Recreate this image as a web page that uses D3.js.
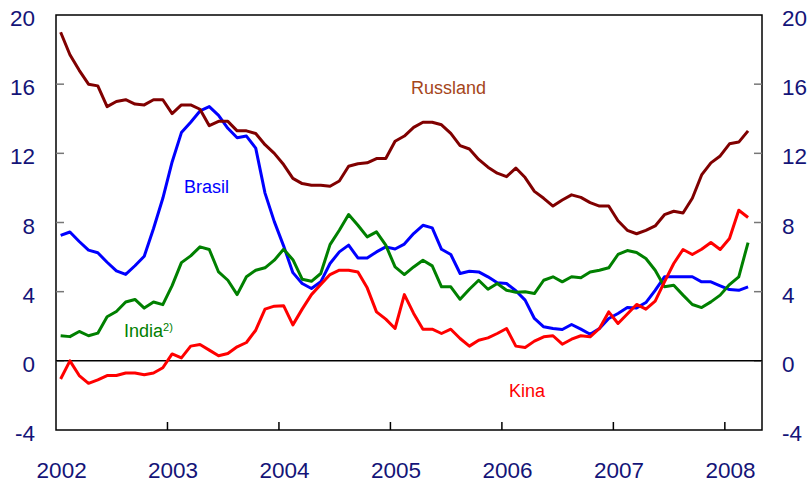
<!DOCTYPE html>
<html>
<head>
<meta charset="utf-8">
<script src="https://cdn.jsdelivr.net/npm/d3@7"></script>
<style>
  body { margin: 0; background: #fff; }
  svg { display: block; font-family: "Liberation Sans", Arial, sans-serif; }
</style>
</head>
<body>
<svg id="chart" width="811" height="484"></svg>
<script>
// monthly values, Jan 2002 - Mar 2008
const startYear = 2002;
const yearTicks = [2002, 2003, 2004, 2005, 2006, 2007, 2008];
const valueTicks = [-4, 0, 4, 8, 12, 16, 20];

const russland = [19.0, 17.7, 16.8, 16.0, 15.9, 14.7, 15.0, 15.1, 14.85, 14.8, 15.1, 15.1,
    14.3, 14.8, 14.8, 14.55, 13.6, 13.85, 13.85, 13.3, 13.3, 13.15, 12.5, 12.0,
    11.35, 10.55, 10.25, 10.15, 10.15, 10.1, 10.4, 11.25, 11.4, 11.45, 11.7, 11.7,
    12.7, 13.0, 13.5, 13.8, 13.8, 13.65, 13.15, 12.45, 12.25, 11.65, 11.2, 10.85,
    10.65, 11.15, 10.6, 9.8, 9.4, 8.95, 9.3, 9.6, 9.45, 9.15, 8.95, 8.95,
    8.1, 7.55, 7.35, 7.55, 7.8, 8.45, 8.65, 8.55, 9.4, 10.75, 11.45, 11.85,
    12.55, 12.65, 13.3];

const brasil = [7.25, 7.45, 6.9, 6.4, 6.25, 5.7, 5.2, 5.0, 5.5, 6.05, 7.65, 9.4,
    11.5, 13.2, 13.8, 14.45, 14.7, 14.2, 13.45, 12.9, 13.0, 12.3, 9.7, 8.05,
    6.65, 5.1, 4.47, 4.18, 4.57, 5.63, 6.3, 6.69, 5.95, 5.95, 6.3, 6.59,
    6.47, 6.75, 7.36, 7.84, 7.69, 6.45, 6.15, 5.05, 5.18, 5.14, 4.86, 4.51,
    4.47, 4.05, 3.51, 2.45, 1.97, 1.87, 1.81, 2.1, 1.83, 1.54, 1.87, 2.45,
    2.74, 3.08, 3.06, 3.37, 4.08, 4.86, 4.86, 4.86, 4.86, 4.57, 4.57, 4.34,
    4.12, 4.08, 4.28];

const india = [1.45, 1.4, 1.7, 1.45, 1.6, 2.55, 2.85, 3.4, 3.55, 3.05, 3.4, 3.25,
    4.35, 5.68, 6.07, 6.59, 6.44, 5.14, 4.66, 3.83, 4.86, 5.24, 5.38, 5.82,
    6.45, 5.85, 4.72, 4.6, 5.05, 6.72, 7.55, 8.46, 7.84, 7.17, 7.46, 6.69,
    5.43, 4.99, 5.43, 5.82, 5.49, 4.28, 4.28, 3.56, 4.14, 4.66, 4.14, 4.47,
    4.08, 3.97, 3.99, 3.89, 4.66, 4.86, 4.57, 4.86, 4.8, 5.14, 5.24, 5.38,
    6.15, 6.38, 6.26, 5.92, 5.24, 4.28, 4.37, 3.8, 3.26, 3.08, 3.41, 3.8,
    4.41, 4.86, 6.84];

const kina = [-1.05, 0.0, -0.85, -1.3, -1.1, -0.85, -0.85, -0.7, -0.7, -0.8, -0.7, -0.4,
    0.4, 0.17, 0.85, 0.94, 0.62, 0.29, 0.42, 0.81, 1.06, 1.77, 2.99, 3.16,
    3.19, 2.08, 2.99, 3.83, 4.41, 4.99, 5.24, 5.24, 5.14, 4.22, 2.83, 2.41,
    1.87, 3.83, 2.74, 1.83, 1.83, 1.58, 1.83, 1.29, 0.85, 1.19, 1.33, 1.58,
    1.87, 0.85, 0.77, 1.14, 1.39, 1.45, 0.96, 1.25, 1.45, 1.39, 1.87, 2.83,
    2.16, 2.71, 3.26, 2.99, 3.45, 4.57, 5.63, 6.44, 6.15, 6.45, 6.84, 6.44,
    7.07, 8.71, 8.29];

document.addEventListener("DOMContentLoaded", function() {
    drawChart("#chart");
});

function drawChart(selector) {
    const svg = d3.select(selector);
    const left = 56, right = 762, top = 15, bottom = 430;
    const labelColor = "#141478";

    const x = d3.scaleLinear().domain([2002, 2008 + 4 / 12]).range([left, right]);
    const y = d3.scaleLinear().domain([-4, 20]).range([bottom, top]);

    // frame
    svg.append("rect")
        .attr("x", left).attr("y", top)
        .attr("width", right - left).attr("height", bottom - top)
        .attr("fill", "none").attr("stroke", "#000").attr("stroke-width", 1.5);

    // y ticks inside, both sides
    const inner = valueTicks.filter(d => d > -4 && d < 20);
    svg.append("g").selectAll("line").data(inner).enter().append("line")
        .attr("x1", left).attr("x2", left + 8)
        .attr("y1", d => y(d)).attr("y2", d => y(d))
        .attr("stroke", "#777").attr("stroke-width", 1.5);
    svg.append("g").selectAll("line").data(inner).enter().append("line")
        .attr("x1", right - 8).attr("x2", right)
        .attr("y1", d => y(d)).attr("y2", d => y(d))
        .attr("stroke", "#777").attr("stroke-width", 1.5);

    // zero line
    svg.append("line")
        .attr("x1", left).attr("x2", right)
        .attr("y1", y(0)).attr("y2", y(0))
        .attr("stroke", "#000").attr("stroke-width", 1.5);

    // x ticks
    svg.append("g").selectAll("line").data(yearTicks.slice(1)).enter().append("line")
        .attr("x1", d => x(d)).attr("x2", d => x(d))
        .attr("y1", bottom).attr("y2", bottom - 8)
        .attr("stroke", "#000").attr("stroke-width", 1.5);

    // tick labels
    svg.append("g").selectAll("text").data(valueTicks).enter().append("text")
        .attr("x", 35).attr("y", d => y(d) + 11)
        .attr("text-anchor", "end")
        .style("font-size", "22.5px").style("fill", labelColor)
        .text(d => d);
    svg.append("g").selectAll("text").data(valueTicks).enter().append("text")
        .attr("x", 782).attr("y", d => y(d) + 11)
        .attr("text-anchor", "start")
        .style("font-size", "22.5px").style("fill", labelColor)
        .text(d => d);
    svg.append("g").selectAll("text").data(yearTicks).enter().append("text")
        .attr("x", d => x(d + 0.5 / 12) + 1).attr("y", 478)
        .attr("text-anchor", "middle")
        .style("font-size", "22.5px").style("fill", labelColor)
        .text(d => d);

    // series
    const line = d3.line()
        .x((d, i) => x(startYear + (i + 0.5) / 12))
        .y(d => y(d));

    const series = [
        { values: brasil, color: "#0000ff" },
        { values: india, color: "#008000" },
        { values: kina, color: "#ff0000" },
        { values: russland, color: "#800000" }
    ];
    svg.append("g").selectAll("path").data(series).enter().append("path")
        .attr("d", d => line(d.values))
        .attr("fill", "none")
        .attr("stroke", d => d.color)
        .attr("stroke-width", 3)
        .attr("stroke-linejoin", "round");

    // series labels
    const lbl = (tx, ty, color, text) => svg.append("text")
        .attr("x", tx).attr("y", ty)
        .style("font-size", "18px").style("fill", color)
        .text(text);
    lbl(411, 94, "#a5461b", "Russland");
    lbl(184, 193, "#0000ff", "Brasil");
    lbl(509, 397, "#ff0000", "Kina");
    const ind = lbl(124, 337, "#008000", "India");
    ind.append("tspan").attr("dy", -6).style("font-size", "11px").text("2)");
}
</script>
</body>
</html>
